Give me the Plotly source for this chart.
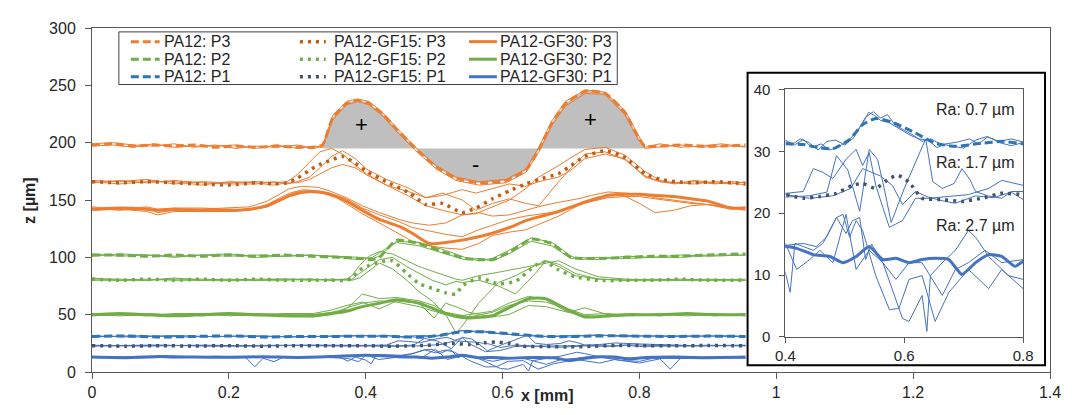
import plotly.graph_objects as go

FONT = "Liberation Sans, Arial, sans-serif"

# ---------------- DATA ----------------
# P3 level, PA12 (dashed) + individual profiles
X_P3_PA12 = [0.0, 0.03, 0.06, 0.09, 0.12, 0.15, 0.18, 0.21, 0.24, 0.27, 0.30, 0.325, 0.337, 0.352, 0.372, 0.388,
             0.405, 0.425, 0.445, 0.471, 0.503, 0.532, 0.565, 0.605, 0.634, 0.653, 0.672, 0.692, 0.721, 0.75,
             0.779, 0.798, 0.808, 0.83, 0.86, 0.89, 0.92, 0.955]
Z_P3_PA12 = [198, 199, 197, 198, 197, 198, 196, 197, 196, 197, 196, 196, 198, 222, 234, 237, 234, 225, 212, 196,
             179, 169, 165, 167, 176, 194, 217, 234, 245, 243, 226, 205, 197, 197, 198, 197, 197, 198]
Z_P3_PA12_T1 = [199, 200, 198, 197, 199, 196, 198, 195, 197, 196, 198, 195, 197, 224, 236, 238, 236, 226, 213, 197,
                180, 170, 166, 168, 177, 196, 219, 236, 246, 244, 228, 207, 196, 199, 196, 197, 199, 196]
Z_P3_PA12_T2 = [197, 198, 196, 199, 196, 197, 197, 198, 195, 198, 195, 197, 196, 220, 233, 236, 233, 223, 210, 194,
                177, 167, 163, 165, 174, 192, 215, 232, 243, 242, 224, 203, 195, 196, 198, 196, 197, 197]
FILL_BASELINE = 195
FILL_RANGE = [0.337, 0.808]

# P3 level, PA12-GF15 (dotted)
X_P3_GF15 = [0.0, 0.04, 0.08, 0.12, 0.16, 0.20, 0.24, 0.265, 0.285, 0.30, 0.318, 0.333, 0.35, 0.366, 0.385, 0.401,
             0.43, 0.464, 0.488, 0.512, 0.541, 0.561, 0.585, 0.61, 0.634, 0.653, 0.682, 0.70, 0.72, 0.75, 0.779,
             0.808, 0.83, 0.852, 0.88, 0.91, 0.935, 0.955]
Z_P3_GF15 = [166, 165, 166, 165, 164, 163, 165, 164, 165, 169, 176, 181, 185, 188, 182, 175, 166, 156, 146, 147,
             139, 143, 151, 158, 164, 168, 173, 180, 188, 193, 187, 173, 168, 166, 165, 166, 165, 164]
Z_P3_GF15_T1 = [167, 166, 168, 164, 166, 165, 166, 165, 166, 172, 183, 192, 195, 190, 180, 173, 163, 153, 145, 141,
                137, 138, 144, 150, 160, 170, 180, 187, 194, 196, 189, 175, 167, 165, 166, 164, 166, 165]
Z_P3_GF15_T2 = [165, 167, 165, 167, 165, 164, 164, 166, 164, 166, 170, 178, 188, 193, 186, 177, 168, 160, 152, 156,
                150, 141, 147, 151, 147, 145, 166, 178, 190, 192, 185, 171, 166, 164, 167, 165, 164, 166]
Z_P3_GF15_T3 = [166, 164, 166, 166, 163, 166, 165, 163, 165, 165, 168, 173, 178, 181, 178, 172, 163, 157, 152, 154,
                159, 156, 160, 164, 162, 166, 170, 176, 186, 190, 186, 170, 166, 165, 164, 166, 165, 163]

# P3 level, PA12-GF30 (solid)
X_P3_GF30 = [0.0, 0.04, 0.08, 0.096, 0.12, 0.16, 0.20, 0.23, 0.256, 0.275, 0.289, 0.308, 0.33, 0.347, 0.372, 0.395,
             0.42, 0.449, 0.468, 0.493, 0.517, 0.541, 0.565, 0.585, 0.61, 0.634, 0.658, 0.682, 0.71, 0.73, 0.754,
             0.78, 0.80, 0.823, 0.85, 0.875, 0.90, 0.933, 0.955]
Z_P3_GF30 = [142, 143, 142, 141, 142, 141, 141, 142, 145, 150, 154, 157, 157, 155, 149, 141, 133, 127, 121, 112,
             113, 115, 118, 121, 126, 132, 136, 140, 146, 150, 154, 155, 155, 154, 153, 151, 149, 143, 143]
Z_P3_GF30_T1 = [143, 141, 143, 139, 141, 142, 143, 144, 149, 155, 160, 162, 161, 158, 152, 145, 139, 133, 130, 128,
                130, 137, 139, 136, 137, 141, 145, 148, 151, 154, 157, 156, 155, 152, 150, 148, 146, 142, 144]
Z_P3_GF30_T2 = [141, 142, 140, 137, 140, 140, 140, 141, 146, 152, 156, 159, 158, 156, 147, 138, 130, 120, 114, 110,
                108, 107, 112, 119, 122, 124, 130, 136, 145, 150, 155, 153, 147, 139, 141, 145, 146, 143, 141]
Z_P3_GF30_T3 = [144, 142, 144, 142, 143, 143, 142, 141, 144, 149, 153, 156, 157, 156, 151, 143, 137, 131, 126, 123,
                120, 118, 124, 128, 133, 136, 138, 140, 146, 149, 152, 153, 153, 151, 149, 147, 146, 144, 142]

# P2 level, PA12 (dashed)
X_P2_PA12 = [0.0, 0.04, 0.08, 0.12, 0.16, 0.20, 0.24, 0.28, 0.32, 0.36, 0.39, 0.41, 0.42, 0.445, 0.478, 0.517,
             0.545, 0.565, 0.585, 0.609, 0.642, 0.672, 0.70, 0.715, 0.74, 0.78, 0.82, 0.86, 0.90, 0.955]
Z_P2_PA12 = [102, 102, 101, 102, 101, 102, 101, 102, 101, 100, 99, 98, 100, 115, 112, 104, 99, 98, 98, 104, 116, 112,
             100, 99, 99, 100, 101, 101, 102, 103]
Z_P2_PA12_T1 = [103, 101, 102, 101, 102, 101, 102, 101, 102, 101, 100, 99, 101, 114, 113, 106, 100, 97, 99, 106, 117,
                113, 101, 98, 100, 99, 100, 102, 101, 102]
Z_P2_PA12_T2 = [101, 103, 102, 100, 102, 103, 100, 101, 102, 100, 98, 100, 104, 113, 110, 103, 98, 99, 97, 103, 114,
                110, 99, 100, 98, 101, 100, 100, 102, 102]

# P2 level, PA12-GF15 (dotted)
X_P2_GF15 = [0.0, 0.04, 0.08, 0.12, 0.16, 0.20, 0.24, 0.28, 0.32, 0.35, 0.372, 0.38, 0.391, 0.405, 0.42, 0.439,
             0.46, 0.478, 0.497, 0.517, 0.532, 0.541, 0.565, 0.594, 0.619, 0.648, 0.663, 0.682, 0.706, 0.74, 0.78,
             0.82, 0.86, 0.90, 0.955]
Z_P2_GF15 = [81, 80, 81, 80, 81, 80, 81, 80, 80, 80, 80, 82, 89, 93, 96, 97, 86, 77, 73, 69, 68, 75, 82, 77, 79, 93,
             96, 89, 83, 80, 80, 80, 81, 80, 80]
Z_P2_GF15_T1 = [81, 81, 80, 82, 80, 81, 80, 81, 81, 80, 81, 84, 93, 101, 105, 103, 97, 92, 88, 84, 81, 80, 84, 87,
                90, 93, 95, 97, 90, 83, 81, 80, 80, 81, 80]
Z_P2_GF15_T2 = [80, 80, 81, 80, 80, 80, 81, 81, 80, 81, 80, 81, 86, 92, 98, 100, 92, 86, 80, 76, 79, 78, 80, 75, 68,
                86, 97, 94, 86, 81, 80, 81, 80, 80, 81]
Z_P2_GF15_T3 = [82, 80, 80, 81, 81, 80, 80, 80, 81, 80, 81, 80, 82, 88, 95, 90, 80, 70, 62, 50, 34, 40, 60, 78, 84,
                93, 97, 92, 84, 81, 80, 80, 81, 80, 80]

# P2 level, PA12-GF30 (solid)
X_P2_GF30 = [0.0, 0.04, 0.08, 0.12, 0.16, 0.20, 0.24, 0.28, 0.323, 0.35, 0.372, 0.395, 0.42, 0.445, 0.478, 0.50,
             0.517, 0.536, 0.551, 0.585, 0.609, 0.638, 0.663, 0.696, 0.72, 0.754, 0.79, 0.83, 0.87, 0.91, 0.955]
Z_P2_GF30 = [50, 51, 50, 49, 50, 51, 50, 49, 49, 51, 53, 57, 60, 63, 60, 55, 51, 48, 47, 49, 56, 64, 64, 54, 48, 49,
             50, 50, 51, 50, 50]
Z_P2_GF30_T1 = [51, 50, 51, 50, 49, 50, 51, 50, 50, 52, 55, 68, 64, 65, 62, 58, 52, 50, 48, 52, 58, 62, 61, 55, 50,
                51, 49, 51, 50, 51, 49]
Z_P2_GF30_T2 = [49, 50, 49, 51, 51, 49, 50, 51, 51, 54, 58, 61, 55, 62, 60, 47, 60, 56, 52, 48, 50, 58, 57, 52, 56,
                50, 51, 49, 51, 49, 51]
Z_P2_GF30_T3 = [50, 49, 50, 50, 51, 50, 49, 50, 48, 50, 56, 60, 62, 61, 57, 53, 50, 49, 50, 53, 60, 66, 63, 52, 49,
                48, 50, 50, 49, 50, 50]

# P1 level, PA12 (dashed)
X_P1_PA12 = [0.0, 0.05, 0.1, 0.15, 0.2, 0.25, 0.3, 0.35, 0.4, 0.43, 0.455, 0.48, 0.508, 0.53, 0.552, 0.58, 0.614,
             0.652, 0.686, 0.73, 0.765, 0.8, 0.85, 0.9, 0.955]
Z_P1_PA12 = [31, 31.5, 30.5, 31, 31.5, 30.5, 31, 31, 31.2, 31.1, 30.6, 30.4, 31.9, 34.3, 35.3, 34.7, 33.2, 31.3, 30.8,
             31.3, 31.6, 31.2, 31, 31.3, 31]
X_P1_PA12_T1 = [0.0, 0.06, 0.12, 0.18, 0.24, 0.30, 0.36, 0.40, 0.415, 0.43, 0.445, 0.46, 0.475, 0.49, 0.505, 0.52,
                0.53, 0.54, 0.55, 0.56, 0.575, 0.59, 0.61, 0.625, 0.64, 0.655, 0.67, 0.69, 0.71, 0.725, 0.74, 0.76,
                0.78, 0.80, 0.86, 0.92, 0.955]
Z_P1_PA12_T1 = [31.5, 30.5, 31.8, 30.8, 31.6, 30.5, 31.5, 31.8, 31.0, 31.9, 30.6, 31.2, 30.2, 30.8, 31.6, 33.2, 34.5,
                36.3, 35.8, 35.0, 34.6, 33.8, 32.6, 32.0, 31.8, 30.6, 31.2, 31.5, 32.0, 31.2, 32.3, 31.6, 32.0, 31.5,
                30.8, 31.7, 31.2]
X_P1_PA12_T2 = [0.0, 0.07, 0.14, 0.21, 0.28, 0.35, 0.40, 0.41, 0.425, 0.44, 0.455, 0.47, 0.485, 0.50, 0.515, 0.525,
                0.535, 0.548, 0.56, 0.572, 0.585, 0.60, 0.615, 0.63, 0.645, 0.66, 0.68, 0.70, 0.72, 0.74, 0.76, 0.78,
                0.80, 0.87, 0.955]
Z_P1_PA12_T2 = [30.8, 31.6, 30.6, 31.3, 30.7, 31.4, 31.6, 31.0, 32.0, 31.4, 30.2, 31.6, 31.8, 31.0, 32.2, 33.8, 35.5,
                36.4, 35.4, 35.9, 34.2, 33.4, 32.6, 31.6, 32.0, 31.2, 30.9, 30.5, 31.8, 32.4, 31.4, 30.9, 31.4, 31.6,
                30.8]

# P1 level, PA12-GF15 (dotted)
X_P1_GF15 = [0.0, 0.05, 0.1, 0.15, 0.2, 0.25, 0.3, 0.35, 0.4, 0.43, 0.458, 0.486, 0.513, 0.53, 0.552, 0.575, 0.59,
             0.608, 0.63, 0.664, 0.697, 0.73, 0.764, 0.8, 0.85, 0.9, 0.955]
Z_P1_GF15 = [23, 22.5, 23, 22.6, 23, 22.5, 23, 22.8, 23, 22.4, 22.7, 23.2, 24.5, 24.8, 24.0, 25.6, 26.1, 25.0, 22.4,
             22.2, 21.9, 22.4, 23.2, 23.0, 22.8, 23.1, 22.9]
X_P1_GF15_T1 = [0.0, 0.08, 0.16, 0.24, 0.32, 0.38, 0.40, 0.43, 0.447, 0.463, 0.48, 0.502, 0.519, 0.53, 0.541, 0.552,
                0.564, 0.575, 0.597, 0.619, 0.641, 0.675, 0.708, 0.742, 0.764, 0.80, 0.88, 0.955]
Z_P1_GF15_T1 = [23.3, 22.6, 23.4, 22.8, 23.5, 23.0, 23.2, 23.5, 27.2, 26.6, 25.6, 28.7, 30.3, 27.7, 29.8, 24.5, 20.9,
                17.7, 18.8, 22.4, 22.4, 22.7, 23.0, 24.0, 25.3, 24.5, 23.0, 23.4]
X_P1_GF15_T2 = [0.0, 0.1, 0.2, 0.3, 0.38, 0.40, 0.44, 0.47, 0.486, 0.505, 0.525, 0.541, 0.555, 0.564, 0.578, 0.60,
                0.636, 0.648, 0.664, 0.684, 0.697, 0.71, 0.72, 0.74, 0.764, 0.78, 0.80, 0.87, 0.955]
Z_P1_GF15_T2 = [22.6, 23.3, 22.5, 23.2, 22.7, 22.6, 22.8, 23.4, 29.3, 27.0, 20.3, 30.3, 28.7, 25.0, 18.5, 24.0, 32.0,
                25.1, 24.0, 24.8, 27.2, 25.5, 23.5, 22.8, 22.4, 23.5, 23.5, 22.6, 23.1]
X_P1_GF15_T3 = [0.0, 0.09, 0.18, 0.27, 0.36, 0.40, 0.44, 0.48, 0.51, 0.53, 0.545, 0.56, 0.58, 0.597, 0.619, 0.64,
                0.664, 0.686, 0.72, 0.75, 0.78, 0.80, 0.9, 0.955]
Z_P1_GF15_T3 = [22.9, 23.4, 22.7, 23.3, 22.8, 23.0, 22.4, 22.8, 24.0, 27.2, 26.6, 26.0, 24.5, 21.4, 23.5, 22.6, 22.0,
                21.6, 22.8, 22.5, 23.4, 22.2, 23.3, 22.7]

# P1 level, PA12-GF30 (solid)
X_P1_GF30 = [0.0, 0.05, 0.1, 0.15, 0.2, 0.25, 0.3, 0.35, 0.4, 0.419, 0.447, 0.475, 0.497, 0.519, 0.541, 0.564, 0.586,
             0.608, 0.63, 0.652, 0.675, 0.697, 0.72, 0.742, 0.764, 0.786, 0.8, 0.85, 0.9, 0.955]
Z_P1_GF30 = [13, 12.5, 13.5, 13, 12.8, 13.3, 12.7, 13.5, 14.6, 14.3, 13.3, 13.0, 12.0, 13.0, 14.6, 12.5, 12.7, 12.0,
             12.5, 12.7, 12.5, 10.1, 12.0, 13.3, 13.0, 11.4, 12.2, 13, 12.5, 13]
X_P1_GF30_T1 = [0.0, 0.05, 0.1, 0.15, 0.2, 0.225, 0.238, 0.25, 0.266, 0.28, 0.32, 0.36, 0.374, 0.385, 0.40, 0.408,
                0.416, 0.447, 0.463, 0.486, 0.497, 0.508, 0.519, 0.53, 0.552, 0.575, 0.591, 0.608, 0.63, 0.652, 0.675,
                0.708, 0.742, 0.764, 0.80, 0.83, 0.845, 0.86, 0.9, 0.955]
Z_P1_GF30_T1 = [13.5, 12.5, 14, 12.8, 13.5, 12.5, 4.5, 12.0, 9.0, 13.0, 12.5, 13.5, 9.5, 13.0, 10.4, 7.2, 15.1, 14.0,
                15.1, 19.3, 19.8, 16.1, 18.8, 17.2, 9.9, 4.4, 4.6, 9.3, 9.9, 2.5, 7.2, 10.9, 7.8, 10.9, 7.8, 11.5, 2.5,
                12.0, 13.0, 12.5]
X_P1_GF30_T2 = [0.0, 0.06, 0.12, 0.18, 0.24, 0.30, 0.34, 0.374, 0.39, 0.40, 0.43, 0.452, 0.469, 0.486, 0.502, 0.513,
                0.525, 0.535, 0.545, 0.564, 0.597, 0.608, 0.63, 0.638, 0.644, 0.664, 0.686, 0.708, 0.72, 0.742, 0.775,
                0.80, 0.82, 0.88, 0.955]
Z_P1_GF30_T2 = [12.5, 13.5, 12.2, 13.8, 12.6, 13.2, 12.8, 11.8, 9.0, 14.8, 15.1, 14.6, 16.1, 19.3, 16.7, 18.8, 19.3,
                12.5, 15.0, 12.0, 3.0, 2.5, 6.7, 0.9, 9.9, 12.0, 14.0, 17.2, 16.1, 13.0, 9.9, 9.3, 12.0, 13.0, 12.2]
X_P1_GF30_T3 = [0.0, 0.07, 0.14, 0.21, 0.28, 0.35, 0.40, 0.419, 0.441, 0.458, 0.48, 0.502, 0.519, 0.541, 0.564, 0.586,
                0.608, 0.63, 0.664, 0.686, 0.708, 0.736, 0.764, 0.80, 0.86, 0.92, 0.955]
Z_P1_GF30_T3 = [13.2, 12.2, 13.6, 12.4, 13.4, 12.6, 15.1, 10.9, 12.5, 14.0, 12.0, 19.8, 10.9, 14.0, 12.0, 9.3, 12.0,
                12.0, 6.7, 10.9, 12.0, 14.0, 12.0, 12.5, 11.8, 13.0, 12.4]

# axis ticks / labels / text
X_TICKS = [0, 0.2, 0.4, 0.6, 0.8, 1.0, 1.2, 1.4]
Y_TICKS = [0, 50, 100, 150, 200, 250, 300]
INSET_X_TICKS = [0.4, 0.6, 0.8]
INSET_Y_TICKS = [0, 10, 20, 30, 40]
RA_LABELS = [("Ra: 0.7 µm", 36.7), ("Ra: 1.7 µm", 28.2), ("Ra: 2.7 µm", 18.0)]
SIGN_LABELS = [("+", 0.394, 216), ("-", 0.560, 181), ("+", 0.728, 220)]

# ---------------- STYLES ----------------
ORANGE = "#ED7D31"
ORANGE_DK = "#C55A11"
GREEN = "#70AD47"
BLUE = "#4472C4"
BLUE_DASH = "#2E75B6"
SLATE = "#44546A"
GRAY_FILL = "#BFBFBF"
AXIS_C = "#595959"
TEXT_C = "#262626"
DASH = "8px,4px"
DOT = "3px,5px"

SERIES = [
    ("PA12: P3", X_P3_PA12, Z_P3_PA12, [(X_P3_PA12, Z_P3_PA12_T1), (X_P3_PA12, Z_P3_PA12_T2)], ORANGE, DASH, 3, ORANGE, False),
    ("PA12-GF15: P3", X_P3_GF15, Z_P3_GF15, [(X_P3_GF15, Z_P3_GF15_T1), (X_P3_GF15, Z_P3_GF15_T2), (X_P3_GF15, Z_P3_GF15_T3)], ORANGE_DK, DOT, 3.5, ORANGE, False),
    ("PA12-GF30: P3", X_P3_GF30, Z_P3_GF30, [(X_P3_GF30, Z_P3_GF30_T1), (X_P3_GF30, Z_P3_GF30_T2), (X_P3_GF30, Z_P3_GF30_T3)], ORANGE, "solid", 3, ORANGE, False),
    ("PA12: P2", X_P2_PA12, Z_P2_PA12, [(X_P2_PA12, Z_P2_PA12_T1), (X_P2_PA12, Z_P2_PA12_T2)], GREEN, DASH, 3, GREEN, False),
    ("PA12-GF15: P2", X_P2_GF15, Z_P2_GF15, [(X_P2_GF15, Z_P2_GF15_T1), (X_P2_GF15, Z_P2_GF15_T2), (X_P2_GF15, Z_P2_GF15_T3)], GREEN, DOT, 3.5, GREEN, False),
    ("PA12-GF30: P2", X_P2_GF30, Z_P2_GF30, [(X_P2_GF30, Z_P2_GF30_T1), (X_P2_GF30, Z_P2_GF30_T2), (X_P2_GF30, Z_P2_GF30_T3)], GREEN, "solid", 3, GREEN, False),
    ("PA12: P1", X_P1_PA12, Z_P1_PA12, [(X_P1_PA12_T1, Z_P1_PA12_T1), (X_P1_PA12_T2, Z_P1_PA12_T2)], BLUE_DASH, DASH, 3, BLUE, True),
    ("PA12-GF15: P1", X_P1_GF15, Z_P1_GF15, [(X_P1_GF15_T1, Z_P1_GF15_T1), (X_P1_GF15_T2, Z_P1_GF15_T2), (X_P1_GF15_T3, Z_P1_GF15_T3)], SLATE, DOT, 3.5, BLUE, True),
    ("PA12-GF30: P1", X_P1_GF30, Z_P1_GF30, [(X_P1_GF30_T1, Z_P1_GF30_T1), (X_P1_GF30_T2, Z_P1_GF30_T2), (X_P1_GF30_T3, Z_P1_GF30_T3)], BLUE, "solid", 3, BLUE, True),
]
LEGEND_ROWS = [["PA12: P3", "PA12-GF15: P3", "PA12-GF30: P3"],
               ["PA12: P2", "PA12-GF15: P2", "PA12-GF30: P2"],
               ["PA12: P1", "PA12-GF15: P1", "PA12-GF30: P1"]]

# pixel geometry of the screenshot (plot area 92..1055 x 19..372); the page body has an 8px margin
W, H, BODY = 1072, 415, 8
PL, PR, PT, PB = 92, 1055, 19, 372


def px(xp):
    return (xp - PL) / (PR - PL)


def py(yp):
    return (PB - yp) / (PB - PT)


fig = go.Figure()

# gray area between PA12:P3 profile and reference line
fx = [x for x in X_P3_PA12 if FILL_RANGE[0] <= x <= FILL_RANGE[1]]
fz = [z for x, z in zip(X_P3_PA12, Z_P3_PA12) if FILL_RANGE[0] <= x <= FILL_RANGE[1]]
fig.add_trace(go.Scatter(x=fx, y=[FILL_BASELINE] * len(fx), mode="lines", line=dict(width=0, color=GRAY_FILL),
                         hoverinfo="skip", showlegend=False))
fig.add_trace(go.Scatter(x=fx, y=fz, mode="lines", line=dict(width=0, color=GRAY_FILL, shape="spline", smoothing=0.5),
                         fill="tonexty", fillcolor=GRAY_FILL, hoverinfo="skip", showlegend=False))

for axes in [("x", "y"), ("x2", "y2")]:
    for name, xs, zs, thins, col, dash, lw, tcol, in_inset in SERIES:
        if axes[0] == "x2" and not in_inset:
            continue
        for tx, tz in thins:
            fig.add_trace(go.Scatter(x=tx, y=tz, mode="lines", xaxis=axes[0], yaxis=axes[1],
                                     line=dict(color=tcol, width=1), showlegend=False, hoverinfo="skip"))
        fig.add_trace(go.Scatter(x=xs, y=zs, mode="lines", name=name, xaxis=axes[0], yaxis=axes[1],
                                 line=dict(color=col, width=lw, dash=dash, shape="spline", smoothing=0.5),
                                 showlegend=False))

shapes = []
annotations = []

# inset frame (white panel)
shapes.append(dict(type="rect", xref="paper", yref="paper", x0=px(751), x1=px(1050), y0=py(365), y1=py(65),
                   line=dict(color="black", width=2), fillcolor="white", layer="below"))

# manual legend
shapes.append(dict(type="rect", xref="paper", yref="paper", x0=px(119), x1=px(620), y0=py(77), y1=py(23),
                   line=dict(color="#404040", width=1), fillcolor="white", layer="above"))
style = {s[0]: s for s in SERIES}
col_sym = [(131, 160), (301, 327), (471, 499)]
col_txt = [162, 333, 500]
row_y = [33, 51, 69]
for r, row in enumerate(LEGEND_ROWS):
    for c, name in enumerate(row):
        s = style[name]
        shapes.append(dict(type="line", xref="paper", yref="paper", x0=px(col_sym[c][0]), x1=px(col_sym[c][1]),
                           y0=py(row_y[r]), y1=py(row_y[r]), line=dict(color=s[4], width=s[6], dash=s[5]),
                           layer="above"))
        annotations.append(dict(xref="paper", yref="paper", x=px(col_txt[c]), y=py(row_y[r]), text=name,
                                showarrow=False, xanchor="left", yanchor="middle",
                                font=dict(family=FONT, size=16, color=TEXT_C)))

for t, sx, sy in SIGN_LABELS:
    annotations.append(dict(xref="x", yref="y", x=sx, y=sy, text=t, showarrow=False,
                            font=dict(family=FONT, size=22, color="black")))
for t, ry in RA_LABELS:
    annotations.append(dict(xref="x2", yref="y2", x=0.8, y=ry, text=t, showarrow=False, xanchor="right",
                            xshift=-6, font=dict(family=FONT, size=16, color=TEXT_C)))

annotations.append(dict(xref="paper", yref="paper", x=px(549), y=py(407), text="<b>x [mm]</b>", showarrow=False,
                        font=dict(family=FONT, size=16, color=TEXT_C)))
annotations.append(dict(xref="paper", yref="paper", x=px(18), y=0.5, text="<b>z [µm]</b>", showarrow=False,
                        textangle=-90, font=dict(family=FONT, size=16, color=TEXT_C)))

axis_common = dict(showgrid=False, zeroline=False, showline=True, linecolor=AXIS_C, linewidth=1,
                   ticks="outside", tickcolor=AXIS_C, tickfont=dict(family=FONT, size=16, color=TEXT_C))

fig.update_layout(
    width=W - BODY, height=H - BODY,
    margin=dict(l=PL - BODY, r=W - PR, t=PT - BODY, b=H - PB, pad=0),
    paper_bgcolor="white", plot_bgcolor="white",
    showlegend=False,
    font=dict(family=FONT, size=16, color=TEXT_C),
    xaxis=dict(range=[0, 1.4], tickvals=X_TICKS, ticktext=[f"{v:g}" for v in X_TICKS], mirror=True, ticklen=6,
               domain=[0, 1], **axis_common),
    yaxis=dict(range=[0, 300], tickvals=Y_TICKS, mirror=True, ticklen=6, ticklabelstandoff=6, domain=[0, 1],
               **axis_common),
    xaxis2=dict(range=[0.4, 0.8], tickvals=INSET_X_TICKS, ticktext=[f"{v:g}" for v in INSET_X_TICKS], anchor="y2",
                domain=[px(789), px(1028)], mirror=True, ticklen=5, **axis_common),
    yaxis2=dict(range=[0, 40], tickvals=INSET_Y_TICKS, anchor="x2", domain=[py(336), py(82)], mirror=True,
                ticklen=5, ticklabelstandoff=6, **axis_common),
    shapes=shapes,
    annotations=annotations,
)
fig.update_xaxes(tickfont_size=15, selector=dict(anchor="y2"))
fig.update_yaxes(tickfont_size=15, selector=dict(anchor="x2"))

fig.write_html("out.html")
